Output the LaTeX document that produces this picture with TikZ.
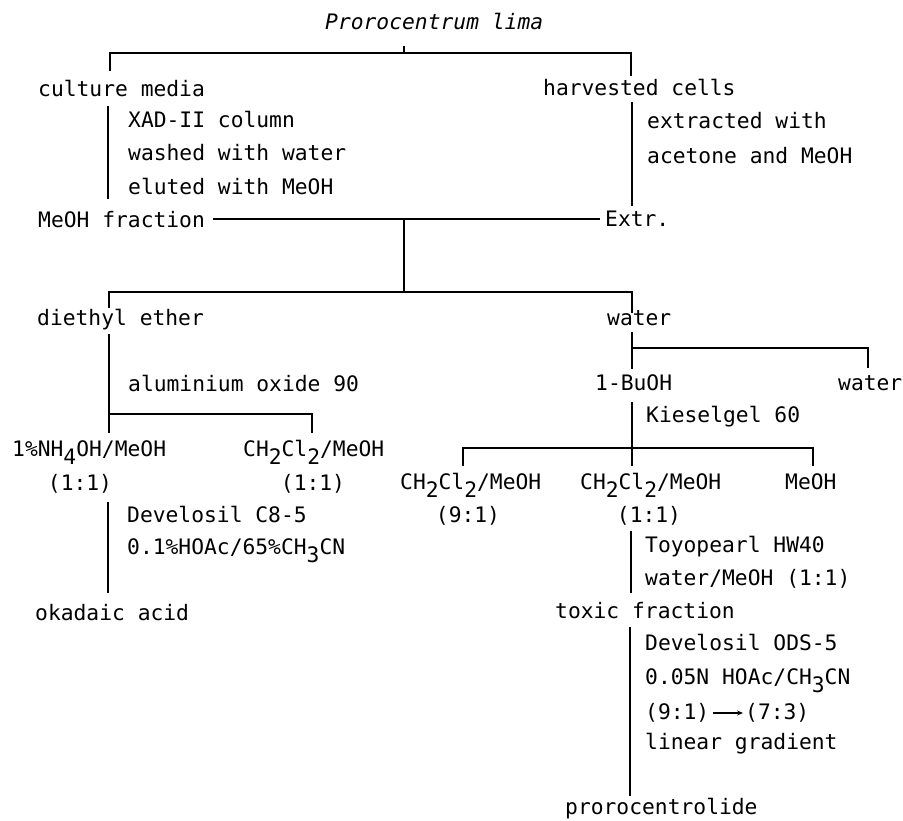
\documentclass[tikz,border=0pt]{standalone}
\usepackage{fontspec}
\newfontfamily\tw{DejaVu Sans Mono}
\usetikzlibrary{arrows.meta}
\newcommand\lowr[1]{\raisebox{-0.4em}{#1}}
\begin{document}
\begin{tikzpicture}[x=1pt,y=-1pt,
  txt/.style={anchor=base west, inner sep=0pt, font=\tw\fontsize{21.3}{30}\selectfont},
  ctxt/.style={anchor=base, inner sep=0pt, font=\tw\fontsize{21.3}{30}\selectfont},
  ln/.style={line width=2pt, line cap=rect}]
\useasboundingbox (0,0) rectangle (903,821);
\fill[white] (0,0) rectangle (903,821);
% texts
\node[txt] (pl) at (325,30) {\itshape Prorocentrum lima};
\node[txt] (cm) at (38,97) {culture media};
\node[txt] (c1) at (128,128) {XAD-II column};
\node[txt] (c2) at (128,161) {washed with water};
\node[txt] (c3) at (128,195) {eluted with MeOH};
\node[txt] (mf) at (38,228) {MeOH fraction};
\node[txt] (hc) at (543,96) {harvested cells};
\node[txt] (h1) at (647,129) {extracted with};
\node[txt] (h2) at (647,164) {acetone and MeOH};
\node[txt] (ex) at (605,227) {Extr.};
\node[txt] (de) at (37,326) {diethyl ether};
\node[txt] (wa) at (607,326) {water};
\node[txt] (ao) at (128,391) {aluminium oxide 90};
\node[txt] (bu) at (595,390) {1-BuOH};
\node[txt] (wb) at (838,390) {water};
\node[txt] (ki) at (646,422) {Kieselgel 60};
\node[txt] (nh) at (12,456) {1\%NH\lowr{4}OH/MeOH};
\node[ctxt] (nhr) at (80,490) {(1:1)};
\node[txt] (da) at (243,456) {CH\lowr{2}Cl\lowr{2}/MeOH};
\node[ctxt] (dar) at (313,490) {(1:1)};
\node[txt] (db) at (400,489) {CH\lowr{2}Cl\lowr{2}/MeOH};
\node[ctxt] (dbr) at (468,522) {(9:1)};
\node[txt] (dc) at (580,489) {CH\lowr{2}Cl\lowr{2}/MeOH};
\node[ctxt] (dcr) at (649,522) {(1:1)};
\node[txt] (me) at (785,489) {MeOH};
\node[txt] (d1) at (127,522) {Develosil C8-5};
\node[txt] (d2) at (127,554) {0.1\%HOAc/65\%CH\lowr{3}CN};
\node[txt] (ok) at (35,620) {okadaic acid};
\node[txt] (t1) at (645,552) {Toyopearl HW40};
\node[txt] (t2) at (645,585) {water/MeOH (1:1)};
\node[txt] (tf) at (555,618) {toxic fraction};
\node[txt] (o1) at (645,650) {Develosil ODS-5};
\node[txt] (o2) at (645,684) {0.05N HOAc/CH\lowr{3}CN};
\node[txt] (g1) at (645,719) {(9:1)};
\node[txt] (g2) at (745,719) {(7:3)};
\node[txt] (o4) at (645,749) {linear gradient};
\node[txt] (pr) at (565,814) {prorocentrolide};
% arrow in gradient line
\draw[line width=1.2pt,-{Stealth[length=6pt,width=5pt]}] ([xshift=3pt,yshift=6pt]g1.base east) -- ([xshift=-2pt,yshift=6pt]g2.base west);
% junction coordinates
\coordinate (a0) at (404,47); \coordinate (a1) at (404,53);
\coordinate (aL) at (110,53); \coordinate (aLd) at (110,70);
\coordinate (aR) at (631,53); \coordinate (aRd) at (631,75);
\coordinate (b0) at (108,107); \coordinate (b1) at (108,198);
\coordinate (c0) at (632,103); \coordinate (c1x) at (632,205);
\coordinate (m0) at (214,219); \coordinate (m1) at (599,219);
\coordinate (mj) at (404,219); \coordinate (mk) at (404,292);
\coordinate (kL) at (109,292); \coordinate (kLd) at (109,307);
\coordinate (kR) at (632,292); \coordinate (kRd) at (632,312);
\coordinate (e0) at (109,335); \coordinate (e1) at (109,432);
\coordinate (ej) at (109,414); \coordinate (eR) at (312,414); \coordinate (eRd) at (312,432);
\coordinate (w0) at (632,333); \coordinate (w1) at (632,368);
\coordinate (wj) at (632,348); \coordinate (wR) at (868,348); \coordinate (wRd) at (868,367);
\coordinate (u0) at (632,403); \coordinate (u1) at (632,465);
\coordinate (uj) at (632,448); \coordinate (uL) at (463,448); \coordinate (uLd) at (463,465);
\coordinate (uR) at (813,448); \coordinate (uRd) at (813,465);
\coordinate (p0) at (108,503); \coordinate (p1) at (108,592);
\coordinate (q0) at (631,532); \coordinate (q1) at (631,592);
\coordinate (r0) at (630,628); \coordinate (r1) at (630,795);
% connectors
\draw[ln] (a0) -- (a1);
\draw[ln] (aLd) -- (aL) -- (aR) -- (aRd);
\draw[ln] (b0) -- (b1);
\draw[ln] (c0) -- (c1x);
\draw[ln] (m0) -- (m1);
\draw[ln] (mj) -- (mk);
\draw[ln] (kLd) -- (kL) -- (kR) -- (kRd);
\draw[ln] (e0) -- (e1);
\draw[ln] (ej) -- (eR) -- (eRd);
\draw[ln] (w0) -- (w1);
\draw[ln] (wj) -- (wR) -- (wRd);
\draw[ln] (u0) -- (u1);
\draw[ln] (uLd) -- (uL) -- (uR) -- (uRd);
\draw[ln] (p0) -- (p1);
\draw[ln] (q0) -- (q1);
\draw[ln] (r0) -- (r1);
\end{tikzpicture}
\end{document}
